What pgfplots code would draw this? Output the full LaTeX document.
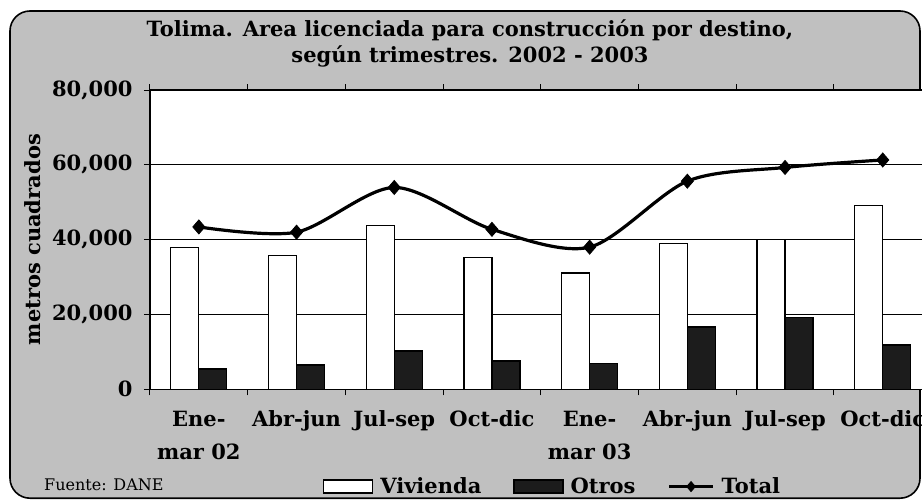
\documentclass[border=0pt]{standalone}
\usepackage{fontspec}
\setmainfont{DejaVu Serif}
\usepackage{pgfplots}
\pgfplotsset{compat=1.18}
\definecolor{panel}{HTML}{C0C0C0}
\definecolor{barblack}{HTML}{1C1C1C}
\newcommand{\lbl}{\fontsize{21}{29}\selectfont\bfseries}
\newcommand{\xlbl}{\fontsize{21}{33}\selectfont\bfseries}
\pgfplotsset{
 boxlegend/.style={legend image code/.code={\draw[##1] (0pt,-6.5pt) rectangle (49pt,6.5pt);}},
 linelegend/.style={legend image code/.code={\draw[##1,mark size=5pt,mark repeat=2,mark phase=2]
    plot coordinates {(0pt,0pt) (22pt,0pt) (44pt,0pt)};}},
}

\begin{document}
\begin{tikzpicture}
\useasboundingbox (0pt,0pt) rectangle (922pt,499pt);
\clip (0pt,0pt) rectangle (922pt,499pt);
\fill[white] (0pt,0pt) rectangle (922pt,499pt);
\draw[line width=1.6pt,fill=panel,rounded corners=20pt] (10pt,0.8pt) rectangle (920pt,488pt);
\node[anchor=base,font=\lbl] at (470pt,462pt) {Tolima. Area licenciada para construcción por destino,};
\node[anchor=base,font=\lbl] at (470pt,436pt) {según trimestres. 2002 - 2003};
\node[anchor=base west,inner sep=0pt,font=\fontsize{16}{18}\selectfont] at (44pt,8.3pt) {Fuente: DANE};
\begin{axis}[
 at={(150pt,109.7pt)},anchor=south west,scale only axis,
 width=781.6pt,height=299.3pt,
 xmin=0.5,xmax=8.5,ymin=0,ymax=80000,
 axis background/.style={fill=white},
 axis line style={line width=1.3pt},
 xtick={1,...,8},
 xticklabels={{Ene-\\mar 02},Abr-jun,Jul-sep,Oct-dic,{Ene-\\mar 03},Abr-jun,Jul-sep,Oct-dic},
 major x tick style={draw=none},
 minor xtick={0.5,1.5,2.5,3.5,4.5,5.5,6.5,7.5,8.5},
 ytick={0,20000,40000,60000,80000},
 tick align=outside,major tick length=6pt,minor tick length=6pt,
 tick style={black,line width=1pt},
 ymajorgrids,grid style={black,line width=0.9pt},
 scaled y ticks=false,
 yticklabel style={/pgf/number format/fixed,/pgf/number format/1000 sep={,},
   /pgf/number format/assume math mode=true,xshift=-8pt,font=\lbl},
 xticklabel style={align=center,anchor=north,yshift=-12pt,font=\xlbl},
 ylabel={metros cuadrados},
 ylabel style={font=\lbl,at={(axis description cs:-0.1407,0.5)},anchor=base},
 legend columns=3,
 legend style={at={(0.2213,-0.325)},anchor=west,draw=none,fill=none,font=\lbl,
   inner sep=0pt,
   /tikz/every odd column/.append style={column sep=5pt},
   /tikz/every even column/.append style={column sep=30pt}},
]
\addplot[ybar,bar width=28pt,bar shift=-14pt,fill=white,draw=black,line width=1.2pt,boxlegend]
 coordinates {(1,37950) (2,35810) (3,43740) (4,35190) (5,31090) (6,38930) (7,40090) (8,49090)};
\addlegendentry{Vivienda}
\addplot[ybar,bar width=28pt,bar shift=14pt,fill=barblack,draw=black,line width=1.2pt,boxlegend]
 coordinates {(1,5430) (2,6500) (3,10250) (4,7570) (5,6950) (6,16660) (7,19240) (8,11850)};
\addlegendentry{Otros}
\addplot[black,line width=3.2pt,smooth,mark=diamond*,mark size=7pt,
  mark options={solid,line width=0.8pt,xscale=1.15},linelegend]
 coordinates {(1,43400) (2,42000) (3,53950) (4,42760) (5,38000) (6,55630) (7,59300) (8,61300)};
\addlegendentry{Total}
\end{axis}
\end{tikzpicture}
\end{document}
